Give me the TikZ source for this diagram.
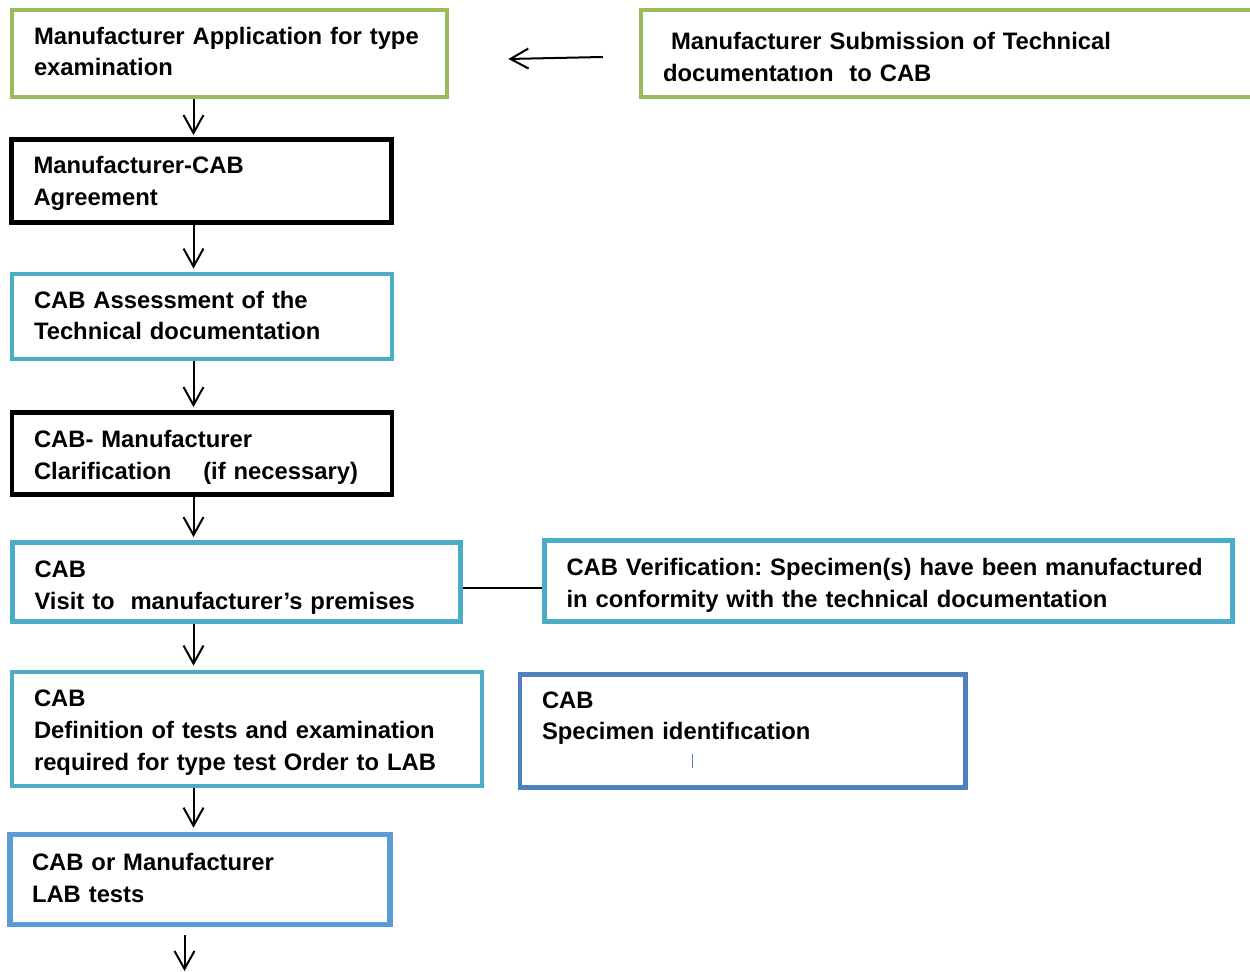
\documentclass[tikz,border=0pt]{standalone}
\usepackage{fontspec}
\setmainfont{Liberation Sans}
\usetikzlibrary{arrows.meta}
\definecolor{boxgreen}{HTML}{9BBB59}
\definecolor{boxcyan}{HTML}{4BACC6}
\definecolor{boxblue}{HTML}{4F81BD}
\definecolor{boxsky}{HTML}{5B9BD5}
\frenchspacing
\newcommand\topgap[1]{\rule{0pt}{#1}}
\newcommand\botgap[1]{\rule[-#1]{0pt}{#1}}
\begin{document}
\begin{tikzpicture}[>={Straight Barb[length=9bp,width=10bp]},line join=miter,
  box/.style={draw,line width=2.4bp,fill=white,inner xsep=11bp,inner ysep=2bp,align=left,
    font=\fontsize{11.9bp}{15.8bp}\selectfont\bfseries},
  flow/.style={black,line width=1bp,->},
  ]
%%
\clip (0bp,0bp) rectangle (625bp,486bp);
\node (node_0) at (114.75bp,459.25bp) [box,draw=boxgreen,text width=195.5bp,minimum height=43.5bp] {Manufacturer Application for type\\examination\botgap{2bp}};
  \node (node_1) at (475.75bp,459.25bp) [box,draw=boxgreen,text width=288.5bp,minimum height=43.5bp] {\topgap{12.2bp}\hspace*{4bp}Manufacturer Submission of Technical\\documentatıon\ \ to CAB};
  \node (node_2) at (100.75bp,395.5bp) [box,draw=black,text width=168bp,minimum height=41.5bp] {\topgap{11.2bp}Manufacturer-CAB\\Agreement};
  \node (node_3) at (101bp,327.75bp) [box,draw=boxcyan,text width=168bp,minimum height=42.5bp] {CAB Assessment of the\\Technical documentation\botgap{1bp}};
  \node (node_4) at (101bp,259.25bp) [box,draw=black,text width=168bp,minimum height=41bp] {\topgap{12.7bp}CAB- Manufacturer\\Clarification \ \ \ (if necessary)};
  \node (node_5) at (118.25bp,195bp) [box,draw=boxcyan,text width=202bp,minimum height=39.5bp] {\topgap{14bp}CAB\\Visit to\ \ manufacturer’s premises};
  \node (node_6) at (444.25bp,195.5bp) [box,draw=boxcyan,text width=322bp,minimum height=40.5bp] {\topgap{12.7bp}CAB Verification: Specimen(s) have been manufactured\\in conformity with the technical documentation};
  \node (node_7) at (123.5bp,121.5bp) [box,draw=boxcyan,text width=213bp,minimum height=57bp] {\topgap{12bp}CAB\\Definition of tests and examination\\required for type test Order to LAB};
  \node (node_8) at (371.375bp,120.5bp) [box,draw=boxblue,text width=200.75bp,minimum height=56.5bp] {\topgap{9bp}CAB\\Specimen identifıcation\\\hspace*{75bp}{\color{boxblue}\rule[2bp]{0.7bp}{7bp}}};
  \node (node_9) at (100bp,46.25bp) [box,draw=boxsky,line width=2.8bp,text width=168bp,minimum height=45bp] {CAB or Manufacturer\\LAB tests\botgap{1.5bp}};
  \coordinate (spine) at (96.75bp,0bp);
  \coordinate (out_end) at (92.25bp,0.5bp);
%
  \draw [flow] ([xshift=-17.9bp,yshift=-1.75bp]node_1.west) -- ([xshift=29.5bp,yshift=-2.75bp]node_0.east);
  \draw [flow] (node_0.south -| spine) -- ([yshift=1bp]node_2.north -| spine);
  \draw [flow] (node_2.south -| spine) -- ([yshift=1.5bp]node_3.north -| spine);
  \draw [flow] (node_3.south -| spine) -- ([yshift=1.5bp]node_4.north -| spine);
  \draw [flow] (node_4.south -| spine) -- ([yshift=1.5bp]node_5.north -| spine);
  \draw [flow] (node_5.south -| spine) -- ([yshift=2bp]node_7.north -| spine);
  \draw [flow] (node_7.south -| spine) -- ([yshift=2bp]node_9.north -| spine);
  \draw [flow] ([yshift=-4bp]node_9.south -| out_end) -- (out_end);
  \draw [black,line width=0.8bp] ([yshift=-3bp]node_5.east) -- ([yshift=-3.5bp]node_6.west);
%
\end{tikzpicture}
\end{document}
